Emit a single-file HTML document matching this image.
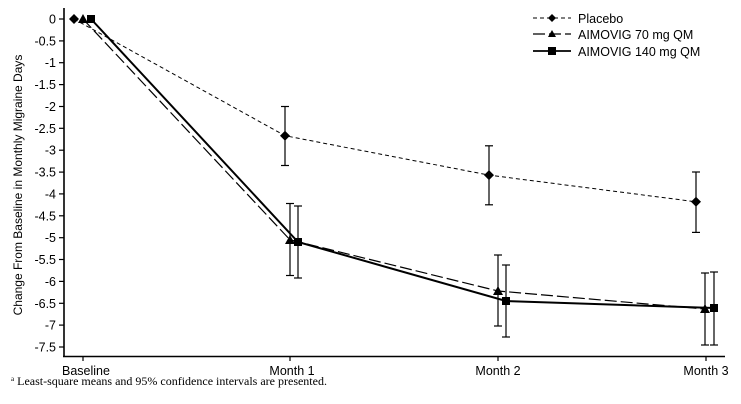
<!DOCTYPE html>
<html><head><style>
body{margin:0;background:#fff;}
svg{display:block;}
text{font-family:"Liberation Sans",Arial,sans-serif;}
</style></head><body>
<svg width="741" height="404" viewBox="0 0 741 404" xmlns="http://www.w3.org/2000/svg">
<rect width="741" height="404" fill="#fff"/>
<g stroke="#000" stroke-width="1.6" fill="none">
<line x1="64" y1="8" x2="64" y2="356.5"/>
<line x1="63" y1="356.5" x2="725" y2="356.5"/>
</g>
<g stroke="#000" stroke-width="1.2">
<line x1="59" y1="19" x2="64" y2="19"/><line x1="59" y1="40.9" x2="64" y2="40.9"/>
<line x1="59" y1="62.7" x2="64" y2="62.7"/><line x1="59" y1="84.6" x2="64" y2="84.6"/>
<line x1="59" y1="106.5" x2="64" y2="106.5"/><line x1="59" y1="128.3" x2="64" y2="128.3"/>
<line x1="59" y1="150.2" x2="64" y2="150.2"/><line x1="59" y1="172.1" x2="64" y2="172.1"/>
<line x1="59" y1="193.9" x2="64" y2="193.9"/><line x1="59" y1="215.8" x2="64" y2="215.8"/>
<line x1="59" y1="237.7" x2="64" y2="237.7"/><line x1="59" y1="259.5" x2="64" y2="259.5"/>
<line x1="59" y1="281.4" x2="64" y2="281.4"/><line x1="59" y1="303.3" x2="64" y2="303.3"/>
<line x1="59" y1="325.1" x2="64" y2="325.1"/><line x1="59" y1="347" x2="64" y2="347"/>
<line x1="83" y1="356" x2="83" y2="361"/><line x1="290" y1="356" x2="290" y2="361"/>
<line x1="498" y1="356" x2="498" y2="361"/><line x1="706" y1="356" x2="706" y2="361"/>
</g>
<g font-size="12.5" text-anchor="end">
<text x="56" y="23.5">0</text><text x="56" y="45.4">-0.5</text><text x="56" y="67.2">-1</text>
<text x="56" y="89.1">-1.5</text><text x="56" y="111">-2</text><text x="56" y="132.8">-2.5</text>
<text x="56" y="154.7">-3</text><text x="56" y="176.6">-3.5</text><text x="56" y="198.4">-4</text>
<text x="56" y="220.3">-4.5</text><text x="56" y="242.2">-5</text><text x="56" y="264">-5.5</text>
<text x="56" y="285.9">-6</text><text x="56" y="307.8">-6.5</text><text x="56" y="329.6">-7</text>
<text x="56" y="351.5">-7.5</text>
</g>
<g font-size="12.5" text-anchor="middle">
<text x="86" y="375">Baseline</text><text x="292" y="375">Month 1</text>
<text x="498" y="375">Month 2</text><text x="706" y="375">Month 3</text>
</g>
<text transform="translate(22,185) rotate(-90)" font-size="12" text-anchor="middle">Change From Baseline in Monthly Migraine Days</text>
<text x="11" y="385" font-size="12" style="font-family:'Liberation Serif',serif"><tspan font-size="7" dy="-4">a</tspan><tspan dy="4"> Least-square means and 95% confidence intervals are presented.</tspan></text>
<polyline points="74,19 285,135.7 489,175.1 696,201.8" fill="none" stroke="#000" stroke-width="1" stroke-dasharray="4,3"/>
<g stroke="#000" stroke-width="1.2">
<line x1="285" y1="106.5" x2="285" y2="165.5"/><line x1="281" y1="106.5" x2="289" y2="106.5"/><line x1="281" y1="165.5" x2="289" y2="165.5"/>
<line x1="489" y1="145.8" x2="489" y2="204.8"/><line x1="485" y1="145.8" x2="493" y2="145.8"/><line x1="485" y1="204.8" x2="493" y2="204.8"/>
<line x1="696" y1="172" x2="696" y2="232.4"/><line x1="692" y1="172" x2="700" y2="172"/><line x1="692" y1="232.4" x2="700" y2="232.4"/>
</g>
<g fill="#000">
<polygon points="74,14 79,19 74,24 69,19"/><polygon points="285,130.7 290,135.7 285,140.7 280,135.7"/>
<polygon points="489,170.1 494,175.1 489,180.1 484,175.1"/><polygon points="696,196.8 701,201.8 696,206.8 691,201.8"/>
</g>
<polyline points="83,19 290,239.8 498,291 705,309" fill="none" stroke="#000" stroke-width="1.2" stroke-dasharray="12,4"/>
<g stroke="#000" stroke-width="1.2">
<line x1="290" y1="203.5" x2="290" y2="275.5"/><line x1="286" y1="203.5" x2="294" y2="203.5"/><line x1="286" y1="275.5" x2="294" y2="275.5"/>
<line x1="498" y1="255" x2="498" y2="326"/><line x1="494" y1="255" x2="502" y2="255"/><line x1="494" y1="326" x2="502" y2="326"/>
<line x1="705" y1="273" x2="705" y2="345"/><line x1="701" y1="273" x2="709" y2="273"/><line x1="701" y1="345" x2="709" y2="345"/>
</g>
<g fill="#000">
<polygon points="83,14 88,23 78,23"/><polygon points="290,235 295,244 285,244"/>
<polygon points="498,286 503,295 493,295"/><polygon points="705,304 710,313 700,313"/>
</g>
<polyline points="91,19 298,242 506,301 714,308" fill="none" stroke="#000" stroke-width="2"/>
<g stroke="#000" stroke-width="1.2">
<line x1="298" y1="206" x2="298" y2="278"/><line x1="294" y1="206" x2="302" y2="206"/><line x1="294" y1="278" x2="302" y2="278"/>
<line x1="506" y1="265" x2="506" y2="337"/><line x1="502" y1="265" x2="510" y2="265"/><line x1="502" y1="337" x2="510" y2="337"/>
<line x1="714" y1="272" x2="714" y2="345"/><line x1="710" y1="272" x2="718" y2="272"/><line x1="710" y1="345" x2="718" y2="345"/>
</g>
<g fill="#000">
<rect x="87" y="15" width="8" height="8"/><rect x="294" y="238" width="8" height="8"/>
<rect x="502" y="297" width="8" height="8"/><rect x="710" y="304" width="8" height="8"/>
</g>
<line x1="533" y1="18" x2="571" y2="18" stroke="#000" stroke-width="1" stroke-dasharray="4,3"/>
<polygon points="552,14 556,18 552,22 548,18" fill="#000"/>
<line x1="533" y1="34" x2="571" y2="34" stroke="#000" stroke-width="1.2" stroke-dasharray="12,4"/>
<polygon points="552,30 556,37 548,37" fill="#000"/>
<line x1="533" y1="51" x2="571" y2="51" stroke="#000" stroke-width="1.8"/>
<rect x="548" y="47" width="8" height="8" fill="#000"/>
<g font-size="12.5">
<text x="578" y="23">Placebo</text>
<text x="578" y="39">AIMOVIG 70 mg QM</text>
<text x="578" y="56">AIMOVIG 140 mg QM</text>
</g>
</svg>
</body></html>
